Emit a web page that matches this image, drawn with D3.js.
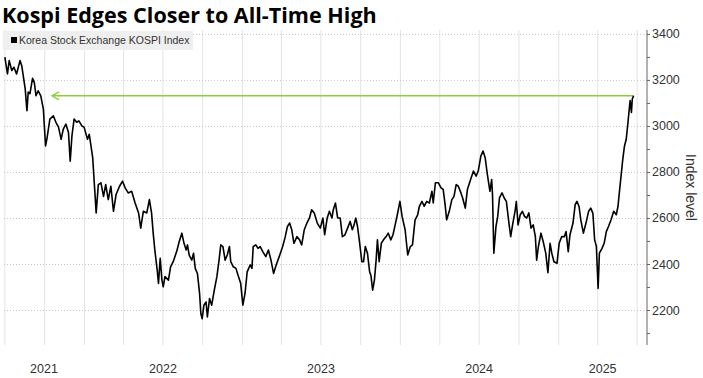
<html>

<head>
    <script src="https://d3js.org/d3.v7.min.js"></script>
    <style>
        body {
            margin: 0;
            background: #fff;
        }

        .title {
            font-family: "Open Sans", "Roboto", "Liberation Sans", sans-serif;
            font-weight: bold;
        }

        .lbl {
            font-family: "Liberation Sans", Arial, sans-serif;
            fill: #333;
        }

        .y.axis .domain,
        .y.axis line {
            stroke: #666;
        }
    </style>
</head>

<body>
    <svg id="chart" width="703" height="378"></svg>
    <script>
        // KOSPI index (roughly every few trading days)
        const dates = [
            "2021-07-02", "2021-07-08", "2021-07-12", "2021-07-18", "2021-07-23", "2021-07-29", "2021-08-06", "2021-08-10",
            "2021-08-18", "2021-08-22", "2021-08-25", "2021-08-29", "2021-09-04", "2021-09-08", "2021-09-12", "2021-09-17",
            "2021-09-23", "2021-09-29", "2021-10-04", "2021-10-07", "2021-10-14", "2021-10-22", "2021-10-28", "2021-11-03",
            "2021-11-09", "2021-11-14", "2021-11-20", "2021-11-26", "2021-11-30", "2021-12-04", "2021-12-09", "2021-12-15",
            "2021-12-20", "2021-12-27", "2022-01-01", "2022-01-09", "2022-01-13", "2022-01-21", "2022-01-29", "2022-02-03",
            "2022-02-09", "2022-02-15", "2022-02-20", "2022-02-26", "2022-03-04", "2022-03-10", "2022-03-16", "2022-03-24",
            "2022-03-31", "2022-04-06", "2022-04-13", "2022-04-21", "2022-04-29", "2022-05-07", "2022-05-12", "2022-05-18",
            "2022-05-26", "2022-06-01", "2022-06-06", "2022-06-10", "2022-06-14", "2022-06-19", "2022-06-22", "2022-06-26",
            "2022-06-30", "2022-07-03", "2022-07-07", "2022-07-15", "2022-07-20", "2022-07-26", "2022-08-03", "2022-08-09",
            "2022-08-15", "2022-08-20", "2022-08-25", "2022-08-28", "2022-09-01", "2022-09-07", "2022-09-11", "2022-09-15",
            "2022-09-20", "2022-09-25", "2022-09-28", "2022-10-01", "2022-10-05", "2022-10-10", "2022-10-13", "2022-10-18",
            "2022-10-23", "2022-10-29", "2022-11-04", "2022-11-09", "2022-11-13", "2022-11-18", "2022-11-23", "2022-11-28",
            "2022-12-03", "2022-12-06", "2022-12-12", "2022-12-18", "2022-12-24", "2022-12-29", "2023-01-03", "2023-01-08",
            "2023-01-13", "2023-01-20", "2023-01-24", "2023-01-27", "2023-02-02", "2023-02-07", "2023-02-12", "2023-02-18",
            "2023-02-25", "2023-03-03", "2023-03-09", "2023-03-15", "2023-03-21", "2023-03-28", "2023-04-05", "2023-04-11",
            "2023-04-16", "2023-04-21", "2023-04-26", "2023-05-01", "2023-05-08", "2023-05-14", "2023-05-19", "2023-05-25",
            "2023-05-31", "2023-06-06", "2023-06-11", "2023-06-17", "2023-06-24", "2023-07-01", "2023-07-07", "2023-07-11",
            "2023-07-17", "2023-07-22", "2023-07-28", "2023-07-31", "2023-08-05", "2023-08-10", "2023-08-16", "2023-08-21",
            "2023-08-27", "2023-09-02", "2023-09-08", "2023-09-13", "2023-09-17", "2023-09-21", "2023-09-25", "2023-09-29",
            "2023-10-05", "2023-10-09", "2023-10-13", "2023-10-18", "2023-10-23", "2023-10-26", "2023-10-30", "2023-11-03",
            "2023-11-07", "2023-11-10", "2023-11-14", "2023-11-19", "2023-11-24", "2023-11-30", "2023-12-05", "2023-12-11",
            "2023-12-16", "2023-12-21", "2023-12-26", "2024-01-01", "2024-01-06", "2024-01-13", "2024-01-19", "2024-01-25",
            "2024-01-30", "2024-02-05", "2024-02-11", "2024-02-15", "2024-02-21", "2024-02-26", "2024-03-03", "2024-03-09",
            "2024-03-15", "2024-03-18", "2024-03-23", "2024-03-30", "2024-04-05", "2024-04-10", "2024-04-14", "2024-04-18",
            "2024-04-24", "2024-04-30", "2024-05-05", "2024-05-10", "2024-05-15", "2024-05-21", "2024-05-25", "2024-05-31",
            "2024-06-05", "2024-06-11", "2024-06-19", "2024-06-25", "2024-06-30", "2024-07-06", "2024-07-11", "2024-07-16",
            "2024-07-21", "2024-07-27", "2024-07-31", "2024-08-02", "2024-08-05", "2024-08-10", "2024-08-14", "2024-08-18",
            "2024-08-24", "2024-08-29", "2024-09-03", "2024-09-08", "2024-09-13", "2024-09-18", "2024-09-23", "2024-09-26",
            "2024-09-30", "2024-10-05", "2024-10-10", "2024-10-15", "2024-10-20", "2024-10-25", "2024-10-30", "2024-11-04",
            "2024-11-09", "2024-11-12", "2024-11-16", "2024-11-22", "2024-11-28", "2024-12-03", "2024-12-08", "2024-12-13",
            "2024-12-17", "2024-12-22", "2024-12-29", "2025-01-03", "2025-01-09", "2025-01-15", "2025-01-19", "2025-01-24",
            "2025-01-28", "2025-02-04", "2025-02-09", "2025-02-13", "2025-02-18", "2025-02-22", "2025-02-28", "2025-03-06",
            "2025-03-12", "2025-03-17", "2025-03-22", "2025-03-26", "2025-03-30", "2025-04-03", "2025-04-06", "2025-04-12",
            "2025-04-17", "2025-04-22", "2025-04-27", "2025-05-03", "2025-05-09", "2025-05-15", "2025-05-19", "2025-05-22",
            "2025-05-26", "2025-05-30", "2025-06-03", "2025-06-07", "2025-06-11", "2025-06-14", "2025-06-16", "2025-06-19",
            "2025-06-21", "2025-06-24"
        ];
        const kospi = [
            3299, 3226, 3284, 3241, 3255, 3226, 3284, 3262,
            3161, 3066, 3147, 3140, 3207, 3190, 3131, 3153,
            3131, 3073, 2913, 2942, 3030, 3044, 3016, 2995,
            2942, 2986, 3008, 2972, 2847, 2957, 3030, 3016,
            3022, 3000, 2995, 2942, 2964, 2862, 2622, 2745,
            2753, 2694, 2745, 2680, 2738, 2629, 2702, 2738,
            2760, 2731, 2709, 2716, 2665, 2622, 2556, 2629,
            2622, 2680, 2622, 2530, 2454, 2374, 2316, 2425,
            2330, 2301, 2345, 2330, 2388, 2410, 2454, 2498,
            2534, 2490, 2461, 2483, 2439, 2417, 2447, 2381,
            2359, 2272, 2184, 2162, 2221, 2235, 2170, 2250,
            2221, 2286, 2345, 2417, 2483, 2476, 2417, 2439,
            2476, 2410, 2388, 2381, 2345, 2316, 2221, 2272,
            2366, 2396, 2381, 2476, 2483, 2468, 2476, 2454,
            2432, 2461, 2417, 2359, 2396, 2432, 2476, 2519,
            2563, 2578, 2549, 2490, 2519, 2505, 2483, 2549,
            2578, 2600, 2636, 2622, 2578, 2556, 2600, 2527,
            2600, 2629, 2600, 2636, 2665, 2600, 2600, 2519,
            2527, 2556, 2585, 2549, 2570, 2600, 2563, 2505,
            2410, 2410, 2476, 2447, 2366, 2350, 2286, 2330,
            2417, 2505, 2410, 2490, 2505, 2519, 2534, 2505,
            2527, 2570, 2614, 2672, 2607, 2549, 2439, 2476,
            2483, 2592, 2614, 2651, 2672, 2651, 2672, 2665,
            2716, 2665, 2753, 2753, 2731, 2724, 2665, 2592,
            2629, 2680, 2694, 2745, 2738, 2709, 2687, 2643,
            2724, 2760, 2804, 2782, 2804, 2869, 2891, 2862,
            2790, 2716, 2767, 2700, 2447, 2563, 2607, 2687,
            2709, 2687, 2672, 2592, 2519, 2578, 2629, 2672,
            2570, 2614, 2629, 2607, 2600, 2622, 2556, 2570,
            2519, 2417, 2476, 2534, 2490, 2447, 2362, 2490,
            2447, 2410, 2403, 2490, 2519, 2519, 2541, 2454,
            2527, 2578, 2658, 2672, 2650, 2592, 2534, 2578,
            2629, 2643, 2620, 2505, 2476, 2294, 2447, 2468,
            2490, 2541, 2563, 2592, 2629, 2614, 2651, 2709,
            2782, 2855, 2913, 2942, 3015, 3073, 3110, 3059,
            3117, 3131
        ];

        const yTicks = [2200, 2400, 2600, 2800, 3000, 3200, 3400];
        const yMinorTicks = [2100, 2300, 2500, 2700, 2900, 3100, 3300];
        const years = [2021, 2022, 2023, 2024, 2025];
        const arrowLevel = 3131;
        const arrowFrom = "2021-10-19";

        const parseDate = d3.timeParse("%Y-%m-%d");
        const data = dates.map((d, i) => ({ date: parseDate(d), value: kospi[i] }));

        const svg = d3.select("#chart");
        const plot = { left: 4, right: 647, top: 30, bottom: 345 };

        const xStart = parseDate("2021-06-30");
        const xEnd = parseDate("2025-07-25");
        const x = d3.scaleTime().domain([xStart, xEnd]).range([plot.left, plot.right]);
        const y = d3.scaleLinear().domain([2048, 3417]).range([plot.bottom, plot.top]);

        // title, sized so it spans the same width as the original
        let title = svg.append("text")
            .attr("class", "title")
            .attr("x", 2)
            .attr("y", 23)
            .attr("font-size", 20)
            .attr("fill", "#000")
            .text("Kospi Edges Closer to All-Time High");
        const tw = title.node().getComputedTextLength();
        title.attr("font-size", Math.min(23, 20 * 375 / tw));

        // vertical gridlines, every quarter
        let quarterGrid = d3.axisBottom(x)
            .ticks(d3.timeMonth.every(3))
            .tickSize(-(plot.bottom - plot.top))
            .tickFormat("");
        let qg = svg.append("g")
            .attr("transform", "translate(0," + plot.bottom + ")")
            .call(quarterGrid);
        qg.select(".domain").remove();
        qg.selectAll("line").attr("stroke", "#e4e4e4");

        // horizontal dotted gridlines
        let levelGrid = d3.axisLeft(y)
            .tickValues(yTicks)
            .tickSize(-(plot.right - plot.left))
            .tickFormat("");
        let lg = svg.append("g")
            .attr("transform", "translate(" + plot.left + ",0)")
            .call(levelGrid);
        lg.select(".domain").remove();
        lg.selectAll("line").attr("stroke", "#c8c8c8").attr("stroke-dasharray", "1,2");

        // legend box
        svg.append("rect")
            .attr("x", 3).attr("y", 31)
            .attr("width", 190).attr("height", 19)
            .attr("fill", "#efefef");
        svg.append("rect")
            .attr("x", 11).attr("y", 37)
            .attr("width", 6).attr("height", 6)
            .attr("fill", "#000");
        svg.append("text")
            .attr("class", "lbl")
            .attr("x", 19).attr("y", 44)
            .attr("font-size", 10.5)
            .attr("fill", "#222")
            .text("Korea Stock Exchange KOSPI Index");

        // green reference arrow
        const green = "#8ccf3c";
        const arrowX = x(parseDate(arrowFrom));
        const arrowEnd = x(data[data.length - 1].date);
        svg.append("line")
            .attr("x1", arrowX).attr("x2", arrowEnd)
            .attr("y1", y(arrowLevel)).attr("y2", y(arrowLevel))
            .attr("stroke", green).attr("stroke-width", 1.6);
        svg.append("path")
            .attr("d", "M" + (arrowX + 7) + "," + (y(arrowLevel) - 4) + "L" + arrowX + "," + y(arrowLevel) + "L" + (arrowX + 7) + "," + (y(arrowLevel) + 4))
            .attr("fill", "none")
            .attr("stroke", green).attr("stroke-width", 1.4);

        // the index line
        const line = d3.line()
            .x(d => x(d.date))
            .y(d => y(d.value));
        svg.append("path")
            .datum(data)
            .attr("d", line)
            .attr("fill", "none")
            .attr("stroke", "#000")
            .attr("stroke-width", 1.6)
            .attr("stroke-linejoin", "round");

        // right axis
        let rightAxis = d3.axisRight(y)
            .tickValues(yTicks)
            .tickSize(3)
            .tickPadding(2)
            .tickFormat(d3.format("d"));
        let ra = svg.append("g")
            .attr("class", "y axis")
            .attr("transform", "translate(" + plot.right + ",0)")
            .call(rightAxis);
        ra.select(".domain").attr("d", "M0," + plot.top + "V" + plot.bottom);
        ra.selectAll("text")
            .attr("class", "lbl")
            .attr("font-size", 12.5)
            .attr("fill", "#333");

        let minorAxis = d3.axisRight(y).tickValues(yMinorTicks).tickSize(3).tickFormat("");
        let ma = svg.append("g")
            .attr("class", "y axis")
            .attr("transform", "translate(" + plot.right + ",0)")
            .call(minorAxis);
        ma.select(".domain").remove();

        svg.append("text")
            .attr("class", "lbl")
            .attr("transform", "translate(686," + ((plot.top + plot.bottom) / 2) + ") rotate(90)")
            .attr("text-anchor", "middle")
            .attr("font-size", 14)
            .text("Index level");

        // year labels centred on the visible part of each year
        years.forEach(yr => {
            const a = Math.max(x(new Date(yr, 0, 1)), plot.left);
            const b = Math.min(x(new Date(yr + 1, 0, 1)), plot.right);
            svg.append("text")
                .attr("class", "lbl")
                .attr("x", (a + b) / 2)
                .attr("y", 373)
                .attr("text-anchor", "middle")
                .attr("font-size", 12.5)
                .text(yr);
        });
    </script>
</body>

</html>
